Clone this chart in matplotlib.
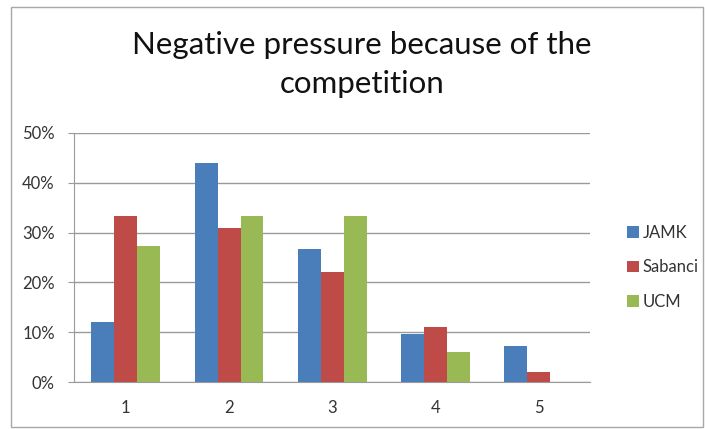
import numpy as np
import matplotlib.pyplot as plt
from matplotlib.patches import Rectangle
from matplotlib.ticker import PercentFormatter

# Answers per scale point (1..5), share of respondents per university
categories = ['1', '2', '3', '4', '5']
jamk = [12.1, 43.9, 26.7, 9.7, 7.2]
sabanci = [33.3, 31.0, 22.1, 11.0, 2.1]
ucm = [27.3, 33.3, 33.3, 6.1, 0.0]

series = [('JAMK', jamk, '#4A7EBB'), ('Sabanci', sabanci, '#BE4B48'), ('UCM', ucm, '#98B954')]

plt.rcParams['font.family'] = ['Lato', 'DejaVu Sans']

fig = plt.figure(figsize=(7.05, 4.29), dpi=100)
ax = fig.add_axes([0.1054, 0.1089, 0.837 - 0.1054, 0.6907 - 0.1089])

x = np.arange(len(categories))
w = 1 / 4.5
for i, (name, vals, col) in enumerate(series):
    ax.bar(x + (i - 1) * w, vals, width=w, color=col, label=name, zorder=3)

ax.set_xlim(-0.5, len(categories) - 0.5)
ax.set_ylim(0, 50)
ax.set_yticks(np.arange(0, 51, 10))
ax.yaxis.set_major_formatter(PercentFormatter(decimals=0))
ax.set_xticks(x)
ax.set_xticklabels(categories)

ax.grid(axis='y', color='#9a9a9a', linewidth=1, zorder=0)
for s in ['top', 'right']:
    ax.spines[s].set_visible(False)
for s in ['left', 'bottom']:
    ax.spines[s].set_color('#9a9a9a')
ax.tick_params(axis='y', length=4, color='#9a9a9a', pad=10, labelsize=12, labelcolor='#333333')
ax.tick_params(axis='x', length=0, pad=13, labelsize=12, labelcolor='#333333')

fig.text(0.513, 0.85, 'Negative pressure because of the\ncompetition', ha='center', va='center',
         fontsize=22.5, color='#111111', linespacing=1.5)

fig.legend(loc='center left', bbox_to_anchor=(0.868, 0.377), frameon=False, fontsize=12,
           handlelength=0.7, handleheight=0.7, handletextpad=0.25, labelspacing=1.1,
           labelcolor='#333333')

# light frame around the chart
fig.add_artist(Rectangle((11 / 705, 2 / 429), 692 / 705, 420 / 429, transform=fig.transFigure,
                         fill=False, edgecolor='#a8a8a8', linewidth=1))

fig.savefig('out.png', dpi=100)
